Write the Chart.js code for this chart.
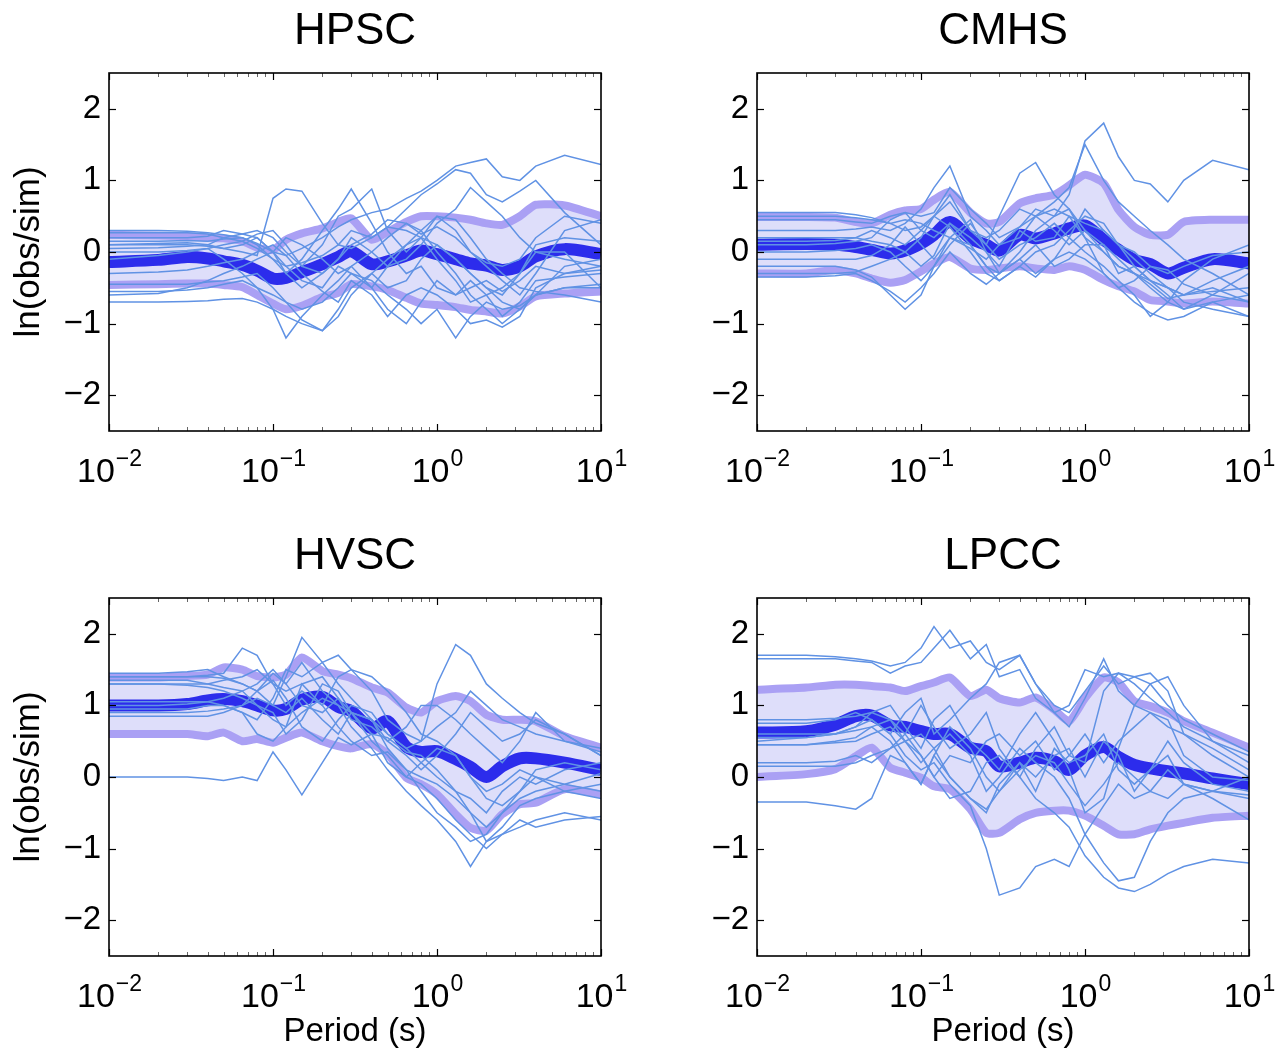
<!DOCTYPE html>
<html>
<head>
<meta charset="utf-8">
<title>ln(obs/sim) por estación</title>
<script src="https://cdn.jsdelivr.net/npm/chart.js@4.4.1/dist/chart.umd.min.js"></script>
<style>
  html, body { margin: 0; padding: 0; background: #fff; }
  body { width: 1275px; height: 1054px; position: relative; overflow: hidden; }
  canvas { position: absolute; }
</style>
</head>
<body>
<canvas id="c1" width="640" height="520" style="left:0;top:0"></canvas>
<canvas id="c2" width="627" height="520" style="left:648px;top:0"></canvas>
<canvas id="c3" width="640" height="529" style="left:0;top:525px"></canvas>
<canvas id="c4" width="627" height="529" style="left:648px;top:525px"></canvas>
<script>
/* Datos */
const periods = [0.01, 0.02, 0.03, 0.04, 0.05, 0.065, 0.08, 0.1, 0.12, 0.15, 0.2, 0.25, 0.3, 0.4, 0.5, 0.65, 0.8, 1, 1.3, 1.6, 2, 2.5, 3.2, 4, 6, 10];
const yTickValues = [-2, -1, 0, 1, 2];
const xTickValues = [0.01, 0.1, 1, 10];
const xTickExponents = ['\u22122', '\u22121', '0', '1'];

// HPSC
const hpscMean  = [-0.14,-0.11,-0.07,-0.09,-0.13,-0.18,-0.26,-0.37,-0.36,-0.28,-0.17,-0.07,0.01,-0.17,-0.13,-0.05,0.02,-0.03,-0.1,-0.16,-0.19,-0.25,-0.2,-0.06,0.04,-0.03];
const hpscUpper = [0.24,0.23,0.22,0.2,0.19,0.15,0.06,0.03,0.17,0.26,0.33,0.42,0.47,0.17,0.28,0.42,0.5,0.5,0.48,0.45,0.4,0.38,0.5,0.66,0.65,0.5];
const hpscLower = [-0.46,-0.45,-0.44,-0.44,-0.46,-0.49,-0.6,-0.72,-0.8,-0.75,-0.63,-0.57,-0.45,-0.48,-0.53,-0.64,-0.72,-0.74,-0.77,-0.81,-0.83,-0.86,-0.76,-0.62,-0.58,-0.55];
const hpscRecords = [
  [0.3,0.3,0.29,0.27,0.24,0.2,0.12,0.0,-0.05,0.05,0.2,0.35,0.45,0.55,0.6,0.75,0.85,1.0,1.2,1.25,1.3,1.05,1.0,1.2,1.35,1.22],
  [0.27,0.27,0.27,0.25,0.2,0.15,0.05,-0.1,-0.2,-0.15,-0.05,0.1,0.3,0.2,0.35,0.6,0.8,0.95,1.15,1.1,0.8,0.7,0.85,1.0,0.55,0.1],
  [0.1,0.12,0.13,0.1,0.05,0.0,-0.05,0.75,0.88,0.85,0.4,0.1,0.05,0.2,0.35,0.3,0.2,0.1,-0.1,-0.3,-0.5,-0.6,-0.3,0.1,0.2,0.15],
  [0.15,0.15,0.16,0.15,0.18,0.2,0.1,-0.1,-0.3,-0.1,0.3,0.6,0.88,0.4,0.0,-0.3,-0.2,-0.5,-0.6,-0.4,-0.6,-0.9,-0.7,-0.4,-0.35,-0.3],
  [0.05,0.06,0.08,0.1,0.2,0.25,0.3,0.2,0.0,-0.2,0.1,0.5,0.6,0.88,0.3,0.0,0.2,0.5,0.3,0.0,-0.2,-0.4,-0.6,-0.3,0.3,0.45],
  [-0.1,-0.05,0.0,0.05,-0.1,-0.3,-0.5,-0.8,-1.2,-0.9,-0.6,-0.4,-0.2,-0.5,-0.8,-1.0,-0.7,-0.4,-0.6,-0.5,-0.4,-0.55,-0.4,-0.2,-0.3,-0.25],
  [-0.7,-0.7,-0.69,-0.68,-0.66,-0.65,-0.7,-0.8,-0.9,-1.0,-1.1,-0.9,-0.6,-0.3,-0.1,0.1,0.3,0.5,0.45,0.2,-0.1,-0.3,-0.5,-0.55,-0.6,-0.7],
  [-0.55,-0.55,-0.53,-0.5,-0.45,-0.4,-0.5,-0.6,-0.7,-0.8,-0.7,-0.5,-0.3,-0.4,-0.6,-0.8,-1.0,-0.8,-1.2,-0.9,-0.7,-0.8,-0.75,-0.6,-0.5,-0.45],
  [-0.6,-0.58,-0.5,-0.4,-0.3,-0.2,-0.1,0.0,0.2,0.1,-0.1,-0.3,-0.2,0.0,0.2,0.4,0.3,0.0,-0.3,-0.6,-0.8,-1.0,-0.8,-0.6,-0.5,-0.5],
  [0.2,0.2,0.2,0.22,0.3,0.25,0.2,0.0,-0.3,-0.5,-0.3,-0.1,0.1,0.25,0.45,0.4,0.25,0.35,0.2,0.0,-0.15,-0.2,-0.1,0.2,0.5,0.4],
  [-0.45,-0.45,-0.45,-0.42,-0.4,-0.35,-0.3,-0.5,-0.7,-0.95,-1.1,-0.8,-0.5,-0.3,-0.5,-0.4,-0.1,0.1,-0.1,-0.3,-0.5,-0.7,-0.8,-0.6,-0.2,-0.1],
  [0.0,0.0,0.02,0.05,0.1,0.15,0.25,0.3,0.1,-0.2,-0.3,-0.1,0.2,0.0,-0.2,-0.1,0.1,0.4,0.6,0.9,0.7,0.5,0.2,0.0,-0.1,-0.2],
  [-0.3,-0.28,-0.25,-0.2,-0.15,-0.1,0.0,0.1,-0.05,-0.3,-0.55,-0.7,-0.4,-0.6,-0.9,-0.6,-0.5,-0.6,-0.8,-1.0,-0.95,-1.05,-0.9,-0.5,-0.3,-0.2],
  [0.1,0.1,0.1,0.08,0.05,0.1,0.2,0.0,-0.2,-0.4,-0.5,-0.2,-0.3,-0.5,-0.2,0.1,0.2,-0.1,-0.4,-0.7,-0.6,-0.5,-0.3,0.0,0.0,-0.5]
];

// CMHS
const cmhsMean  = [0.1,0.11,0.1,0.07,0.03,-0.02,0.02,0.12,0.24,0.42,0.19,0.1,0.02,0.24,0.19,0.26,0.33,0.37,0.17,0.03,-0.11,-0.17,-0.3,-0.22,-0.1,-0.16];
const cmhsUpper = [0.49,0.49,0.48,0.42,0.4,0.52,0.58,0.6,0.73,0.84,0.55,0.4,0.42,0.68,0.75,0.8,0.93,1.08,0.96,0.59,0.35,0.24,0.24,0.42,0.45,0.45];
const cmhsLower = [-0.3,-0.3,-0.25,-0.3,-0.37,-0.43,-0.39,-0.27,-0.16,-0.07,-0.23,-0.25,-0.23,-0.2,-0.23,-0.25,-0.2,-0.25,-0.39,-0.48,-0.55,-0.67,-0.69,-0.72,-0.69,-0.72];
const cmhsRecords = [
  [0.55,0.55,0.55,0.52,0.48,0.4,0.45,0.4,0.3,0.2,0.05,-0.1,0.1,0.35,0.6,0.5,0.8,1.55,1.8,1.33,1.0,0.95,0.7,1.0,1.28,1.15],
  [0.5,0.5,0.5,0.48,0.45,0.4,0.3,0.35,0.5,0.7,0.3,0.2,0.3,0.6,0.5,0.7,0.9,1.5,1.0,0.7,0.5,0.3,0.1,-0.1,-0.3,-0.6],
  [0.3,0.3,0.3,0.32,0.35,0.3,0.4,0.6,0.9,1.2,0.5,0.3,0.1,0.2,0.5,0.6,0.5,0.4,0.3,0.1,-0.2,-0.4,-0.6,-0.8,-0.7,-0.9],
  [0.15,0.15,0.16,0.2,0.3,0.2,0.1,0.3,0.5,0.8,0.3,0.1,0.5,1.1,1.25,0.8,0.6,0.2,0.0,-0.2,-0.3,-0.4,-0.5,-0.6,-0.5,-0.7],
  [-0.2,-0.2,-0.2,-0.25,-0.35,-0.6,-0.8,-0.6,-0.2,0.2,0.1,-0.2,-0.4,-0.2,0.0,0.1,0.3,0.5,0.4,0.1,-0.1,-0.3,-0.5,-0.7,-0.8,-0.9],
  [-0.35,-0.35,-0.33,-0.3,-0.4,-0.55,-0.7,-0.5,-0.3,0.0,-0.3,-0.45,-0.3,-0.1,-0.3,-0.1,0.0,-0.1,-0.3,-0.5,-0.7,-0.85,-0.95,-0.9,-0.7,-0.6],
  [0.1,0.1,0.12,0.15,0.2,0.45,0.55,0.3,0.2,0.4,0.1,-0.2,-0.3,0.0,0.3,0.5,0.6,0.3,0.0,-0.2,-0.3,-0.45,-0.65,-0.6,-0.4,-0.2],
  [-0.3,-0.3,-0.3,-0.28,-0.2,-0.1,0.0,0.2,0.5,0.35,0.0,-0.3,-0.4,-0.2,-0.35,-0.1,0.2,0.6,0.3,0.1,0.0,-0.2,-0.3,-0.2,-0.05,0.0],
  [0.45,0.45,0.45,0.42,0.4,0.5,0.55,0.5,0.55,0.9,0.6,0.4,0.2,0.35,0.5,0.3,0.1,0.3,0.1,-0.3,-0.2,-0.4,-0.5,-0.6,-0.55,-0.5],
  [0.0,0.0,0.02,0.05,0.1,0.0,-0.2,-0.4,-0.2,0.1,0.4,0.1,-0.1,0.1,0.2,0.4,0.2,0.0,-0.2,-0.4,-0.6,-0.9,-0.7,-0.4,-0.1,0.1],
  [0.2,0.2,0.2,0.2,0.15,0.1,0.0,-0.2,-0.05,0.4,0.2,0.0,-0.2,0.3,0.15,0.2,0.5,0.2,-0.3,-0.5,-0.4,-0.2,-0.25,-0.45,-0.6,-0.7],
  [-0.1,-0.1,-0.1,-0.1,-0.05,0.1,0.35,0.1,-0.1,0.2,0.45,0.0,-0.3,-0.1,0.1,-0.2,-0.1,0.1,0.1,-0.1,-0.3,-0.5,-0.7,-0.8,-0.6,-0.3]
];

// HVSC
const hvscMean  = [1.0,1.0,1.02,1.07,1.09,1.06,1.0,0.93,0.95,1.08,1.12,0.98,0.92,0.68,0.78,0.42,0.35,0.36,0.25,0.14,0.0,0.15,0.26,0.26,0.2,0.1];
const hvscUpper = [1.39,1.39,1.41,1.43,1.53,1.5,1.41,1.39,1.43,1.67,1.48,1.43,1.38,1.25,1.18,0.97,0.9,1.06,1.13,1.06,0.87,0.8,0.8,0.78,0.57,0.41];
const hvscLower = [0.6,0.6,0.6,0.57,0.62,0.5,0.53,0.48,0.55,0.62,0.5,0.43,0.4,0.46,0.32,-0.01,-0.1,-0.24,-0.52,-0.71,-0.75,-0.52,-0.38,-0.36,-0.17,-0.24];
const hvscRecords = [
  [0,0,0,-0.02,-0.05,0.0,-0.05,0.35,0.1,-0.25,0.2,0.55,0.45,0.6,0.55,0.35,0.3,0.1,-0.2,-0.5,-0.9,-0.8,-0.6,-0.7,-0.6,-0.55],
  [1.45,1.45,1.47,1.5,1.4,1.3,1.2,1.0,1.4,1.95,1.6,1.7,1.5,1.4,1.2,0.9,0.6,0.5,0.3,0.0,-0.2,-0.1,0.1,0.0,-0.2,-0.3],
  [1.4,1.4,1.4,1.42,1.45,1.8,1.7,1.3,1.0,1.2,1.0,1.4,1.5,1.2,0.8,0.6,0.5,0.7,0.9,1.2,1.0,0.8,0.7,0.6,0.5,0.4],
  [1.35,1.35,1.35,1.3,1.25,1.2,1.3,1.5,1.3,1.6,1.2,1.0,0.9,0.8,0.6,0.4,0.5,1.3,1.85,1.7,1.3,1.1,0.9,0.75,0.6,0.3],
  [1.3,1.3,1.28,1.25,1.2,1.1,1.0,0.8,0.7,0.9,1.1,1.0,0.7,0.4,0.1,-0.2,-0.4,-0.6,-0.9,-1.25,-0.9,-0.7,-0.4,-0.3,-0.2,-0.1],
  [1.0,1.0,1.02,1.05,1.1,1.2,1.0,0.9,0.6,0.8,1.3,1.2,0.9,0.6,0.2,0.0,-0.1,-0.3,-0.6,-0.8,-1.0,-0.8,-0.7,-0.6,-0.5,-0.6],
  [0.95,0.95,0.95,1.0,1.0,0.9,0.8,1.1,1.5,1.4,1.6,1.3,1.1,0.8,0.5,0.3,0.1,0.3,0.6,0.9,0.7,0.5,0.6,0.8,0.6,0.3],
  [0.9,0.9,0.9,0.92,0.95,1.0,1.2,1.35,1.1,0.7,0.5,0.8,1.0,0.9,0.6,0.4,0.2,0.0,-0.2,-0.3,-0.5,-0.2,0.0,-0.1,0.1,0.2],
  [1.05,1.05,1.05,1.05,1.0,0.9,0.6,0.5,0.7,1.3,1.0,0.7,0.5,0.3,0.35,0.1,-0.2,-0.5,-0.7,-0.9,-0.8,-0.5,-0.3,-0.2,-0.1,0.05],
  [1.3,1.3,1.3,1.3,1.35,1.4,1.5,1.3,1.2,1.3,1.4,1.1,0.8,0.7,0.5,0.7,1.0,1.0,0.8,0.6,0.4,0.2,0.5,0.9,0.5,0.35],
  [0.85,0.85,0.85,0.85,0.9,1.0,1.1,1.0,0.9,1.1,0.8,0.6,0.9,0.8,0.4,0.1,0.0,-0.1,-0.3,-0.5,-0.7,-0.5,-0.2,0.1,0.2,0.1],
  [1.4,1.4,1.4,1.4,1.38,1.3,1.2,1.45,1.3,1.0,0.9,1.1,0.9,0.5,0.3,0.0,0.2,0.4,0.3,0.0,-0.3,-0.4,-0.2,0.0,-0.1,-0.2]
];

// LPCC
const lpccMean  = [0.62,0.64,0.73,0.85,0.86,0.72,0.7,0.64,0.6,0.6,0.41,0.36,0.15,0.2,0.27,0.22,0.1,0.3,0.42,0.28,0.17,0.12,0.08,0.05,-0.02,-0.1];
const lpccUpper = [1.22,1.25,1.29,1.29,1.27,1.25,1.2,1.27,1.32,1.39,1.13,1.22,1.1,1.04,1.11,0.94,0.78,1.1,1.39,1.32,1.06,0.99,0.9,0.78,0.62,0.41];
const lpccLower = [0.0,0.04,0.11,0.29,0.41,0.13,0.06,-0.01,-0.13,-0.17,-0.45,-0.78,-0.78,-0.59,-0.5,-0.47,-0.47,-0.54,-0.68,-0.8,-0.8,-0.73,-0.68,-0.64,-0.57,-0.54];
const lpccRecords = [
  [1.7,1.7,1.68,1.65,1.62,1.55,1.6,1.8,2.1,1.8,1.9,1.6,1.5,1.7,1.3,1.0,0.9,1.2,1.55,1.3,1.4,1.3,1.0,0.8,0.6,0.35],
  [1.65,1.65,1.65,1.62,1.6,1.45,1.55,1.6,1.8,2.05,1.65,1.85,1.4,1.5,1.1,0.9,1.0,1.5,1.4,1.45,1.3,1.1,0.9,0.7,0.5,0.3],
  [0.5,0.55,0.6,0.7,0.8,0.6,0.3,0.1,0.2,-0.1,-0.4,-1.0,-1.65,-1.55,-1.25,-1.15,-1.25,-0.8,-0.4,-0.1,-0.3,-0.2,0.1,-0.1,-0.2,0.0],
  [0.2,0.2,0.22,0.3,0.2,0.4,0.6,0.3,0.0,-0.3,-0.2,0.2,0.3,0.0,-0.3,-0.5,-0.7,-1.1,-1.4,-1.55,-1.6,-1.5,-1.35,-1.25,-1.15,-1.2],
  [0.45,0.45,0.48,0.5,0.6,0.7,0.5,0.2,0.4,0.6,0.3,-0.2,0.0,0.4,0.2,0.0,-0.3,-0.8,-1.2,-1.45,-1.4,-0.9,-0.5,-0.3,-0.2,-0.3],
  [-0.35,-0.35,-0.4,-0.45,-0.3,0.3,0.2,-0.1,0.3,0.0,-0.3,-0.45,-0.2,0.1,0.3,0.2,-0.1,-0.4,-0.1,0.2,0.0,-0.2,-0.3,-0.1,-0.2,-0.25],
  [0.75,0.75,0.8,0.9,0.8,0.6,0.9,1.1,0.6,0.8,1.1,1.3,1.6,1.7,1.3,0.9,0.7,1.1,1.65,1.2,1.0,0.9,0.7,0.6,0.4,0.1],
  [0.8,0.8,0.82,0.85,0.9,1.0,0.7,0.4,0.8,1.0,0.5,0.3,0.1,0.6,0.9,0.5,0.1,-0.5,-0.3,0.4,1.0,1.3,1.4,1.0,0.5,0.2],
  [0.6,0.6,0.6,0.65,0.7,0.8,0.6,1.0,0.7,0.4,0.6,0.9,0.4,0.0,0.4,0.7,0.3,0.2,1.2,1.45,1.4,1.45,1.2,0.6,0.3,0.0],
  [0.45,0.45,0.5,0.55,0.7,0.5,0.2,-0.1,0.3,0.7,0.4,0.0,-0.2,0.2,0.0,0.3,0.4,0.0,0.5,0.3,-0.2,0.1,0.3,-0.1,-0.3,-0.6],
  [0.15,0.15,0.15,0.2,0.3,0.4,0.5,0.6,0.4,0.0,-0.3,-0.5,-0.1,0.2,-0.2,0.4,0.2,0.3,0.6,0.1,-0.1,0.1,0.5,0.2,-0.1,-0.2],
  [0.55,0.55,0.6,0.7,0.9,0.8,0.5,0.3,0.0,0.3,0.2,0.5,0.6,0.3,0.5,0.1,0.3,0.6,0.2,0.5,0.7,0.9,0.8,0.3,0.0,-0.05]
];

/* Estilo */
const familia = '"Liberation Sans", Arial, Helvetica, sans-serif';
const colorRegistro = 'rgb(96,146,228)';
const colorMedia = 'rgb(44,44,236)';
const colorBanda = 'rgb(170,160,244)';
const colorRelleno = 'rgb(222,222,250)';

Chart.defaults.font.family = familia;
Chart.defaults.color = '#000';

// Convierte una lista de valores en puntos {x: periodo, y: valor}
function datosSerie(valores) {
    return periods.map((t, i) => ({ x: t, y: valores[i] }));
}

// Marco tipo MATLAB: caja, marcas hacia dentro, título y etiquetas 10^n
const marcoMatlab = {
    id: 'marcoMatlab',
    afterDatasetsDraw(chart) {
        const { ctx, chartArea: a } = chart;
        const x = chart.scales.x, y = chart.scales.y;
        const linea = (x1, y1, x2, y2) => { ctx.beginPath(); ctx.moveTo(x1, y1); ctx.lineTo(x2, y2); ctx.stroke(); };
        ctx.save();
        ctx.strokeStyle = '#000';
        ctx.lineWidth = 1.2;
        yTickValues.forEach(v => {
            const py = Math.round(y.getPixelForValue(v)) + 0.5;
            linea(a.left, py, a.left + 7, py);
            linea(a.right - 7, py, a.right, py);
        });
        xTickValues.forEach(v => {
            const px = Math.round(x.getPixelForValue(v)) + 0.5;
            linea(px, a.bottom, px, a.bottom - 7);
            linea(px, a.top, px, a.top + 7);
        });
        // marcas menores del eje logarítmico
        ctx.strokeStyle = '#666';
        ctx.lineWidth = 1;
        xTickValues.slice(0, -1).forEach(d => {
            for (let k = 2; k <= 9; k++) {
                const px = Math.round(x.getPixelForValue(d * k)) + 0.5;
                linea(px, a.bottom, px, a.bottom - 4);
                linea(px, a.top, px, a.top + 4);
            }
        });
        ctx.strokeStyle = '#000';
        ctx.lineWidth = 1.6;
        ctx.strokeRect(a.left, a.top, a.right - a.left, a.bottom - a.top);
        ctx.restore();
    },
    afterDraw(chart, args, opts) {
        const { ctx, chartArea: a } = chart;
        const x = chart.scales.x;
        ctx.save();
        ctx.fillStyle = '#000';
        // título de la estación
        ctx.font = '44px ' + familia;
        ctx.textAlign = 'center';
        ctx.textBaseline = 'alphabetic';
        ctx.fillText(opts.titulo, (a.left + a.right) / 2, a.top - 29);
        // etiquetas 10^n
        ctx.textAlign = 'left';
        xTickValues.forEach((v, i) => {
            const px = x.getPixelForValue(v);
            const exp = xTickExponents[i];
            ctx.font = '34px ' + familia;
            const w1 = ctx.measureText('10').width;
            ctx.font = '23px ' + familia;
            const w2 = ctx.measureText(exp).width;
            const x0 = px - (w1 + w2) / 2;
            ctx.font = '34px ' + familia;
            ctx.fillText('10', x0, a.bottom + 51);
            ctx.font = '23px ' + familia;
            ctx.fillText(exp, x0 + w1 + 1, a.bottom + 35);
        });
        ctx.restore();
    }
};

function crearPanel(idCanvas, titulo, media, superior, inferior, registros, tituloY, tituloX) {
    const canvas = document.getElementById(idCanvas);
    const conjuntos = [];
    registros.forEach(r => {
        conjuntos.push({
            data: datosSerie(r), borderColor: colorRegistro, borderWidth: 1.5,
            pointRadius: 0, fill: false, tension: 0, order: 0, clip: 0
        });
    });
    conjuntos.push({
        data: datosSerie(media), borderColor: colorMedia, borderWidth: 12,
        pointRadius: 0, fill: false, tension: 0.3, order: 1, clip: 0,
        borderJoinStyle: 'round', borderCapStyle: 'butt'
    });
    conjuntos.push({
        data: datosSerie(superior), borderColor: colorBanda, borderWidth: 8,
        backgroundColor: colorRelleno, fill: '+1',
        pointRadius: 0, tension: 0.2, order: 2, clip: 0, borderJoinStyle: 'round'
    });
    conjuntos.push({
        data: datosSerie(inferior), borderColor: colorBanda, borderWidth: 8,
        pointRadius: 0, fill: false, tension: 0.2, order: 2, clip: 0, borderJoinStyle: 'round'
    });

    const altoEjeX = canvas.height - 73 - 358;

    new Chart(canvas, {
        type: 'line',
        data: { datasets: conjuntos },
        plugins: [marcoMatlab],
        options: {
            responsive: false,
            animation: false,
            events: [],
            layout: { padding: { top: 73, left: 0, right: canvas.width - 601, bottom: 0 } },
            plugins: {
                legend: { display: false },
                tooltip: { enabled: false },
                filler: { drawTime: 'beforeDatasetsDraw' },
                marcoMatlab: { titulo: titulo }
            },
            scales: {
                x: {
                    type: 'logarithmic',
                    min: 0.01,
                    max: 10,
                    grid: { display: false, drawTicks: false },
                    border: { display: false },
                    ticks: { display: false },
                    afterBuildTicks: s => { s.ticks = xTickValues.map(v => ({ value: v })); },
                    afterFit: s => { s.height = altoEjeX; },
                    title: {
                        display: tituloX,
                        text: 'Period (s)',
                        font: { size: 33 },
                        padding: { top: 0, bottom: 2 }
                    }
                },
                y: {
                    min: -2.5,
                    max: 2.5,
                    grid: { display: false, drawTicks: false },
                    border: { display: false },
                    afterBuildTicks: s => { s.ticks = yTickValues.map(v => ({ value: v })); },
                    afterFit: s => { s.width = 109; },
                    ticks: {
                        font: { size: 33 },
                        padding: 8,
                        callback: v => (v < 0 ? '\u2212' + Math.abs(v) : String(v))
                    },
                    title: {
                        display: tituloY,
                        text: 'ln(obs/sim)',
                        font: { size: 35 },
                        padding: { top: 8, bottom: 0 }
                    }
                }
            }
        }
    });
}

window.onload = function () {
    crearPanel('c1', 'HPSC', hpscMean, hpscUpper, hpscLower, hpscRecords, true, false);
    crearPanel('c2', 'CMHS', cmhsMean, cmhsUpper, cmhsLower, cmhsRecords, false, false);
    crearPanel('c3', 'HVSC', hvscMean, hvscUpper, hvscLower, hvscRecords, true, true);
    crearPanel('c4', 'LPCC', lpccMean, lpccUpper, lpccLower, lpccRecords, false, true);
};
</script>
</body>
</html>
